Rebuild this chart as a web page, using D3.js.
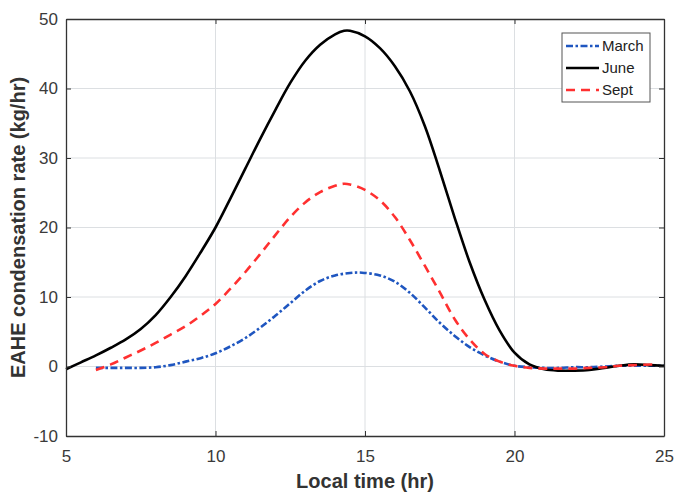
<!DOCTYPE html>
<html>
<head>
<meta charset="utf-8">
<script src="https://cdn.jsdelivr.net/npm/d3@7"></script>
<style>
  body { margin: 0; background: #fff; }
  svg { font-family: "Liberation Sans", Arial, Helvetica, sans-serif; }
</style>
</head>
<body>
<div id="chart"></div>
<script>
// Data
const juneX  = [5, 5.5, 6, 6.5, 7, 7.5, 8, 8.5, 9, 9.5, 10, 10.5, 11, 11.5, 12, 12.5, 13, 13.5, 14, 14.3, 14.5, 15, 15.5, 16, 16.5, 17, 17.5, 18, 18.5, 19, 19.5, 20, 20.5, 21, 21.5, 22, 22.5, 23, 23.5, 24, 24.5, 25];
const juneY  = [-0.4, 0.6, 1.6, 2.7, 3.9, 5.4, 7.4, 10.0, 13.0, 16.4, 20.0, 24.2, 28.5, 32.8, 36.9, 40.8, 44.0, 46.3, 47.8, 48.3, 48.3, 47.5, 45.8, 43.2, 39.6, 34.6, 28.2, 21.4, 15.0, 9.6, 5.2, 2.0, 0.3, -0.4, -0.6, -0.6, -0.5, -0.2, 0.1, 0.3, 0.2, 0.1];

const septX  = [6, 6.5, 7, 7.5, 8, 8.5, 9, 9.5, 10, 10.5, 11, 11.5, 12, 12.5, 13, 13.5, 14, 14.3, 14.5, 15, 15.5, 16, 16.5, 17, 17.5, 18, 18.5, 19, 19.5, 20, 20.5, 21, 21.5, 22, 22.5, 23, 23.5, 24, 24.7];
const septY  = [-0.5, 0.3, 1.3, 2.3, 3.4, 4.6, 5.8, 7.3, 9.0, 11.2, 13.6, 16.2, 18.9, 21.5, 23.6, 25.1, 26.0, 26.3, 26.2, 25.4, 23.9, 21.5, 18.2, 14.5, 10.7, 6.8, 3.9, 1.8, 0.7, 0.1, -0.2, -0.3, -0.3, -0.3, -0.2, -0.1, 0.1, 0.2, 0.3];

const marchX = [6, 6.5, 7, 7.5, 8, 8.5, 9, 9.5, 10, 10.5, 11, 11.5, 12, 12.5, 13, 13.5, 14, 14.5, 14.9, 15.5, 16, 16.5, 17, 17.5, 18, 18.5, 19, 19.5, 20, 20.5, 21, 21.5, 22, 22.5, 23, 23.5, 24, 24.5, 25];
const marchY = [-0.2, -0.2, -0.2, -0.2, -0.1, 0.2, 0.7, 1.2, 1.9, 2.9, 4.1, 5.6, 7.3, 9.1, 10.9, 12.3, 13.1, 13.45, 13.5, 13.1, 12.2, 10.6, 8.5, 6.3, 4.4, 2.8, 1.6, 0.7, 0.1, -0.1, -0.2, -0.2, -0.1, -0.1, 0.0, 0.1, 0.1, 0.1, 0.1];

const xTicks = [5, 10, 15, 20, 25];
const yTicks = [-10, 0, 10, 20, 30, 40, 50];

const series = [
    { name: "March", xs: marchX, ys: marchY, color: "#1f56c0", dash: "7,2.5,2.5,2.5" },
    { name: "June",  xs: juneX,  ys: juneY,  color: "#000000", dash: null },
    { name: "Sept",  xs: septX,  ys: septY,  color: "#ff3030", dash: "9,6" }
];

const width = 674, height = 494;
const plotL = 66, plotR = 664, plotT = 19, plotB = 436;

const svg = d3.select("#chart")
    .append("svg")
    .attr("width", width)
    .attr("height", height);

const x = d3.scaleLinear().domain([5, 25]).range([plotL, plotR]);
const y = d3.scaleLinear().domain([-10, 50]).range([plotB, plotT]);

// grid lines
svg.append("g")
    .selectAll("line")
    .data(xTicks.slice(1, -1))
    .enter().append("line")
    .attr("x1", d => x(d)).attr("x2", d => x(d))
    .attr("y1", plotT).attr("y2", plotB)
    .attr("stroke", "#dcdfe2").attr("stroke-width", 1);

svg.append("g")
    .selectAll("line")
    .data(yTicks.slice(1, -1))
    .enter().append("line")
    .attr("x1", plotL).attr("x2", plotR)
    .attr("y1", d => y(d)).attr("y2", d => y(d))
    .attr("stroke", "#dcdfe2").attr("stroke-width", 1);

// lines
const line = d3.line()
    .x(d => x(d[0]))
    .y(d => y(d[1]))
    .curve(d3.curveCatmullRom.alpha(0.5));

series.forEach(s => {
    const pts = s.xs.map((v, i) => [v, s.ys[i]]);
    svg.append("path")
        .datum(pts)
        .attr("d", line)
        .attr("fill", "none")
        .attr("stroke", s.color)
        .attr("stroke-width", 2.6)
        .attr("stroke-dasharray", s.dash);
});

// axes (ticks point inwards, box on)
const axisColor = "#333";
const tickLen = 5;
const fmt = d => String(d);

const xAxis = svg.append("g")
    .attr("transform", `translate(0,${plotB})`)
    .call(d3.axisBottom(x).tickValues(xTicks).tickFormat(fmt).tickSizeInner(-tickLen).tickSizeOuter(0).tickPadding(14));
const yAxis = svg.append("g")
    .attr("transform", `translate(${plotL},0)`)
    .call(d3.axisLeft(y).tickValues(yTicks).tickFormat(fmt).tickSizeInner(-tickLen).tickSizeOuter(0).tickPadding(8));
const xTop = svg.append("g")
    .attr("transform", `translate(0,${plotT})`)
    .call(d3.axisTop(x).tickValues(xTicks).tickSizeInner(-tickLen).tickSizeOuter(0).tickFormat(""));
const yRight = svg.append("g")
    .attr("transform", `translate(${plotR},0)`)
    .call(d3.axisRight(y).tickValues(yTicks).tickSizeInner(-tickLen).tickSizeOuter(0).tickFormat(""));

[xAxis, yAxis, xTop, yRight].forEach(g => {
    g.select(".domain").attr("stroke", axisColor).attr("stroke-width", 1.3);
    g.selectAll(".tick line").attr("stroke", axisColor).attr("stroke-width", 1);
    g.selectAll(".tick text")
        .attr("fill", "#3a3a3a")
        .style("font-size", "17px")
        .style("font-family", "'Liberation Sans', Arial, sans-serif");
});

// axis labels
svg.append("text")
    .attr("x", (plotL + plotR) / 2)
    .attr("y", 488)
    .attr("text-anchor", "middle")
    .style("font-size", "20px")
    .style("font-weight", "bold")
    .attr("fill", "#333")
    .text("Local time (hr)");

svg.append("text")
    .attr("transform", `translate(25,${(plotT + plotB) / 2}) rotate(-90)`)
    .attr("text-anchor", "middle")
    .style("font-size", "20px")
    .style("font-weight", "bold")
    .attr("fill", "#333")
    .text("EAHE condensation rate (kg/hr)");

// legend
const legend = svg.append("g").attr("transform", "translate(562,33)");
legend.append("rect")
    .attr("width", 88).attr("height", 69)
    .attr("fill", "#fff")
    .attr("stroke", "#555").attr("stroke-width", 1);

series.forEach((s, i) => {
    const ly = 13 + i * 22;
    legend.append("line")
        .attr("x1", 4).attr("x2", 37)
        .attr("y1", ly).attr("y2", ly)
        .attr("stroke", s.color)
        .attr("stroke-width", 2.6)
        .attr("stroke-dasharray", s.dash);
    legend.append("text")
        .attr("x", 40)
        .attr("y", ly + 5)
        .style("font-size", "15px")
        .attr("fill", "#222")
        .text(s.name);
});
</script>
</body>
</html>
